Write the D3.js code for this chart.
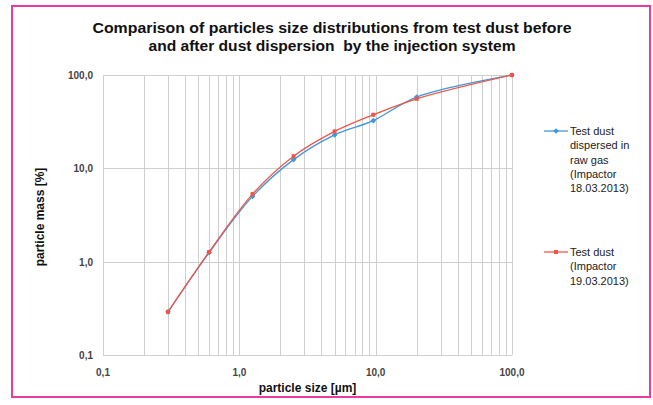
<!DOCTYPE html>
<html lang="en">
<head>
<meta charset="UTF-8">
<title>Particle size distributions</title>
<script src="https://d3js.org/d3.v7.min.js"></script>
<style>
    body { margin: 0; background: #fff; }
    svg { display: block; font-family: "Liberation Sans", Arial, sans-serif; }
    .grid line { stroke: #cfcfcf; stroke-width: 1; shape-rendering: crispEdges; }
    .tick-label { font-size: 10px; font-weight: bold; fill: #444; }
    .axis-title { font-size: 12px; font-weight: bold; fill: #111; }
    .legend text { font-size: 11px; fill: #222; }
</style>
</head>
<body>
<svg width="653" height="405"></svg>
<script>
    // particle size [µm]
    const sizes = [0.3, 0.6, 1.25, 2.5, 5, 9.6, 20, 100];
    // particle mass [%], cumulative
    const rawGas = [0.29, 1.25, 5.0, 12.4, 22.8, 32.4, 58, 100];
    const testDust = [0.29, 1.27, 5.3, 13.5, 24.9, 37.5, 55.6, 100];

    const seriesNames = [
        ["Test dust", "dispersed in", "raw gas", "(Impactor", "18.03.2013)"],
        ["Test dust", "(Impactor", "19.03.2013)"]
    ];
    const seriesColors = ["#4196dc", "#ef5648"];

    const xTicks = [0.1, 1, 10, 100];
    const yTicks = [0.1, 1, 10, 100];
    const fmt = v => v < 1 ? "0,1" : d3.format(".1f")(v).replace(".", ",");

    const svg = d3.select("svg");
    const margin = { left: 103, top: 75, right: 141, bottom: 50 };
    const width = 653, height = 405;

    // pink frame
    svg.append("rect")
        .attr("x", 12).attr("y", 6)
        .attr("width", 638).attr("height", 391)
        .attr("fill", "none")
        .attr("stroke", "#ec3a9f")
        .attr("stroke-width", 2);

    const x = d3.scaleLog().domain([0.1, 100]).range([margin.left, width - margin.right]);
    const y = d3.scaleLog().domain([0.1, 100]).range([height - margin.bottom, margin.top]);

    // grid: vertical lines at every log tick, horizontal only at decades
    const grid = svg.append("g").attr("class", "grid");
    grid.selectAll(".v")
        .data(x.ticks())
        .enter().append("line")
        .attr("x1", d => Math.round(x(d)) + 0.5)
        .attr("x2", d => Math.round(x(d)) + 0.5)
        .attr("y1", y(100))
        .attr("y2", y(0.1));
    grid.selectAll(".h")
        .data(yTicks)
        .enter().append("line")
        .attr("x1", x(0.1))
        .attr("x2", x(100))
        .attr("y1", d => Math.round(y(d)) + 0.5)
        .attr("y2", d => Math.round(y(d)) + 0.5);

    // tick labels
    svg.selectAll(".xl")
        .data(xTicks)
        .enter().append("text")
        .attr("class", "tick-label")
        .attr("x", d => x(d))
        .attr("y", y(0.1) + 21)
        .attr("text-anchor", "middle")
        .text(fmt);
    svg.selectAll(".yl")
        .data(yTicks)
        .enter().append("text")
        .attr("class", "tick-label")
        .attr("x", x(0.1) - 10)
        .attr("y", d => y(d) + 4)
        .attr("text-anchor", "end")
        .text(fmt);

    // axis titles
    svg.append("text")
        .attr("class", "axis-title")
        .attr("x", (x(0.1) + x(100)) / 2)
        .attr("y", 392)
        .attr("text-anchor", "middle")
        .text("particle size [µm]");
    svg.append("text")
        .attr("class", "axis-title")
        .attr("transform", "translate(44," + ((y(0.1) + y(100)) / 2 + 2) + ") rotate(-90)")
        .attr("text-anchor", "middle")
        .text("particle mass [%]");

    // title
    const title = ["Comparison of particles size distributions from test dust before",
                   "and after dust dispersion  by the injection system"];
    const titleWidths = [479, 367];
    svg.selectAll(".title")
        .data(title)
        .enter().append("text")
        .attr("x", 332)
        .attr("y", (d, i) => 33 + i * 18)
        .attr("text-anchor", "middle")
        .attr("font-size", 14)
        .attr("font-weight", "bold")
        .attr("fill", "#111")
        .attr("textLength", (d, i) => titleWidths[i])
        .attr("lengthAdjust", "spacingAndGlyphs")
        .style("white-space", "pre")
        .text(d => d);

    // series
    const line = d3.line()
        .x(d => x(d[0]))
        .y(d => y(d[1]))
        .curve(d3.curveCatmullRom.alpha(0.5));

    [rawGas, testDust].forEach((vals, i) => {
        const pts = sizes.map((s, j) => [s, vals[j]]);
        const g = svg.append("g");
        g.append("path")
            .datum(pts)
            .attr("d", line)
            .attr("fill", "none")
            .attr("stroke", seriesColors[i])
            .attr("stroke-width", 1.3);
        g.selectAll("rect")
            .data(pts)
            .enter().append("rect")
            .attr("x", d => x(d[0]) - 2)
            .attr("y", d => y(d[1]) - 2)
            .attr("width", 4)
            .attr("height", 4)
            .attr("fill", seriesColors[i])
            .attr("transform", d => i === 0 ? "rotate(45," + x(d[0]) + "," + y(d[1]) + ")" : null);
    });

    // legend
    const legendTop = [131, 252];
    const legend = svg.append("g").attr("class", "legend");
    seriesNames.forEach((lines, i) => {
        const ly = legendTop[i];
        legend.append("line")
            .attr("x1", 544).attr("x2", 568)
            .attr("y1", ly).attr("y2", ly)
            .attr("stroke", seriesColors[i])
            .attr("stroke-width", 1.3);
        legend.append("rect")
            .attr("x", 554).attr("y", ly - 2)
            .attr("width", 4).attr("height", 4)
            .attr("fill", seriesColors[i])
            .attr("transform", i === 0 ? "rotate(45,556," + ly + ")" : null);
        legend.selectAll(".t" + i)
            .data(lines)
            .enter().append("text")
            .attr("x", 570)
            .attr("y", (d, j) => ly + 4 + j * 14.3)
            .text(d => d);
    });
</script>
</body>
</html>
